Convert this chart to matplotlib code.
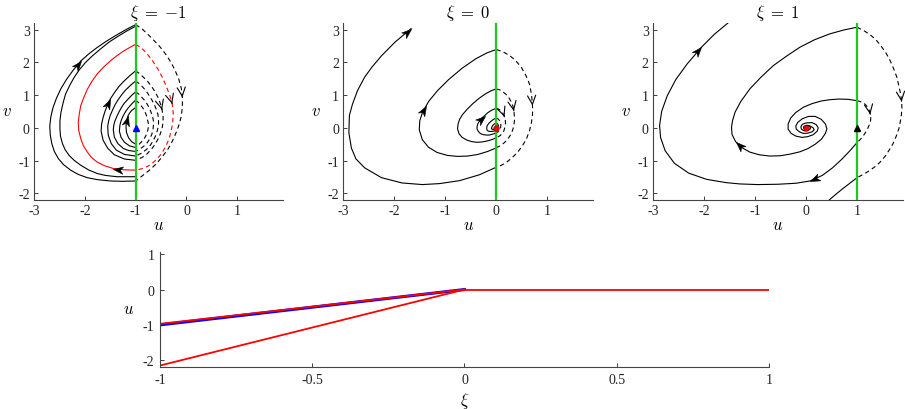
import numpy as np
import matplotlib
matplotlib.use('Agg')
import matplotlib.pyplot as plt
from matplotlib.markers import MarkerStyle
from matplotlib.transforms import Affine2D

plt.rcParams['font.family'] = ['Liberation Serif', 'DejaVu Serif']
plt.rcParams['mathtext.fontset'] = 'cm'
plt.rcParams['axes.unicode_minus'] = False

# ---------------- xi = -1 panel ----------------
xi_values = [-1, 0, 1]
titles = [r'$\xi\;=\;{-1}$', r'$\xi\;=\;0$', r'$\xi\;=\;1$']

m1_solid_out1 = [(-1.0,-1.62),(-1.25,-1.63),(-1.5,-1.62),(-1.75,-1.58),(-1.95,-1.52),(-2.13,-1.42),
                 (-2.28,-1.29),(-2.42,-1.12),(-2.52,-0.94),(-2.60,-0.72),(-2.65,-0.48),(-2.68,-0.22),
                 (-2.69,0.05),(-2.67,0.33),(-2.63,0.60),(-2.56,0.90),(-2.47,1.20),(-2.36,1.48),
                 (-2.23,1.76),(-2.08,2.04),(-1.92,2.26),(-1.76,2.45),(-1.58,2.64),(-1.39,2.82),
                 (-1.20,2.99),(-1.0,3.15)]
m1_solid_out2 = [(-1.0,-1.49),(-1.37,-1.49),(-1.60,-1.45),(-1.76,-1.39),(-1.93,-1.28),(-2.08,-1.14),
                 (-2.21,-0.99),(-2.31,-0.84),(-2.39,-0.66),(-2.44,-0.48),(-2.48,-0.25),(-2.49,-0.03),
                 (-2.49,0.22),(-2.47,0.47),(-2.43,0.75),(-2.38,1.03),(-2.30,1.29),(-2.21,1.54),
                 (-2.11,1.77),(-1.99,1.99),(-1.85,2.20),(-1.69,2.41),(-1.52,2.62),(-1.34,2.80),
                 (-1.17,2.96),(-1.0,3.10)]
m1_solid_red = [(-1.0,-1.29),(-1.22,-1.28),(-1.44,-1.24),(-1.62,-1.15),(-1.76,-1.04),(-1.87,-0.90),
                (-1.95,-0.74),(-2.03,-0.54),(-2.08,-0.33),(-2.12,-0.08),(-2.13,0.17),(-2.11,0.42),
                (-2.08,0.68),(-2.02,0.93),(-1.95,1.18),(-1.86,1.42),(-1.76,1.64),(-1.64,1.84),
                (-1.50,2.04),(-1.37,2.20),(-1.24,2.34),(-1.12,2.45),(-1.0,2.55)]
m1_solid_a1 = [(-1.0,-0.99),(-1.22,-0.95),(-1.42,-0.82),(-1.55,-0.62),(-1.64,-0.38),(-1.68,-0.10),
               (-1.67,0.12),(-1.64,0.32),(-1.60,0.52),(-1.55,0.71),(-1.50,0.88),(-1.41,1.09),
               (-1.32,1.28),(-1.22,1.44),(-1.11,1.60),(-1.0,1.74)]
m1_solid_a2 = [(-1.0,-0.86),(-1.22,-0.81),(-1.38,-0.68),(-1.48,-0.48),(-1.54,-0.22),(-1.55,0.05),
               (-1.53,0.22),(-1.50,0.38),(-1.45,0.56),(-1.40,0.72),(-1.34,0.87),(-1.27,1.02),
               (-1.20,1.15),(-1.10,1.30),(-1.0,1.43)]
m1_solid_a3 = [(-1.0,-0.72),(-1.14,-0.69),(-1.24,-0.63),(-1.35,-0.48),(-1.42,-0.28),(-1.44,-0.05),
               (-1.43,0.08),(-1.41,0.20),(-1.37,0.35),(-1.33,0.48),(-1.28,0.62),(-1.23,0.74),
               (-1.16,0.86),(-1.08,0.99),(-1.0,1.10)]
m1_solid_a4 = [(-1.0,-0.60),(-1.12,-0.55),(-1.22,-0.44),(-1.29,-0.28),(-1.32,-0.10),(-1.31,0.08),
               (-1.29,0.20),(-1.26,0.32),(-1.22,0.44),(-1.18,0.54),(-1.13,0.64),(-1.06,0.76),(-1.0,0.85)]
m1_solid_a5 = [(-1.0,-0.50),(-1.08,-0.42),(-1.14,-0.30),(-1.18,-0.14),(-1.19,0.02),(-1.185,0.14),
               (-1.17,0.26),(-1.15,0.37),(-1.12,0.45),(-1.08,0.53),(-1.0,0.62)]
m1_dash_out = [(-1.0,3.15),(-0.89,3.04),(-0.79,2.90),(-0.66,2.70),(-0.53,2.49),(-0.41,2.25),
               (-0.30,1.99),(-0.22,1.74),(-0.15,1.48),(-0.10,1.20),(-0.08,0.93),(-0.08,0.65),
               (-0.10,0.37),(-0.14,0.12),(-0.20,-0.13),(-0.27,-0.38),(-0.36,-0.64),(-0.47,-0.87),
               (-0.59,-1.09),(-0.72,-1.28),(-0.85,-1.44),(-1.0,-1.62)]
m1_dash_red = [(-1.0,2.55),(-0.89,2.44),(-0.79,2.29),(-0.67,2.05),(-0.56,1.79),(-0.47,1.53),
               (-0.40,1.28),(-0.33,1.00),(-0.28,0.73),(-0.26,0.45),(-0.27,0.17),(-0.30,-0.08),
               (-0.34,-0.33),(-0.41,-0.57),(-0.49,-0.79),(-0.60,-0.98),(-0.72,-1.14),(-0.86,-1.24),(-1.0,-1.29)]
m1_dash_i1 = [(-1.0,1.74),(-0.92,1.65),(-0.85,1.55),(-0.76,1.41),(-0.68,1.25),(-0.61,1.08),
              (-0.55,0.90),(-0.51,0.72),(-0.48,0.55),(-0.46,0.36),(-0.46,0.17),(-0.48,-0.02),
              (-0.52,-0.20),(-0.57,-0.37),(-0.63,-0.53),(-0.70,-0.67),(-0.78,-0.80),(-0.87,-0.90),(-1.0,-0.99)]
m1_dash_i2 = [(-1.0,1.43),(-0.93,1.35),(-0.87,1.26),(-0.80,1.14),(-0.74,1.00),(-0.68,0.85),
              (-0.63,0.70),(-0.59,0.55),(-0.56,0.40),(-0.55,0.25),(-0.55,0.10),(-0.57,-0.06),
              (-0.60,-0.22),(-0.65,-0.38),(-0.71,-0.53),(-0.78,-0.65),(-0.88,-0.77),(-1.0,-0.86)]
m1_dash_i3 = [(-1.0,1.10),(-0.94,1.03),(-0.89,0.95),(-0.83,0.85),(-0.78,0.74),(-0.73,0.61),
              (-0.70,0.49),(-0.67,0.36),(-0.65,0.22),(-0.65,0.08),(-0.66,-0.06),(-0.68,-0.19),
              (-0.72,-0.33),(-0.77,-0.45),(-0.84,-0.56),(-0.92,-0.65),(-1.0,-0.72)]
m1_dash_i4 = [(-1.0,0.85),(-0.95,0.78),(-0.91,0.71),(-0.86,0.61),(-0.82,0.50),(-0.79,0.39),
              (-0.77,0.27),(-0.75,0.14),(-0.75,0.03),(-0.76,-0.07),(-0.78,-0.18),(-0.82,-0.30),
              (-0.87,-0.40),(-0.93,-0.50),(-1.0,-0.60)]

# ---------------- xi = 0 panel ----------------
m2_solid_1 = [(0,-1.20),(-0.33,-1.43),(-0.72,-1.61),(-1.11,-1.70),(-1.45,-1.73),(-1.85,-1.68),
              (-2.25,-1.52),(-2.58,-1.22),(-2.75,-0.95),(-2.84,-0.62),(-2.89,-0.15),(-2.88,0.38),
              (-2.82,0.72),(-2.72,1.14),(-2.58,1.55),(-2.44,1.85),(-2.25,2.20),(-1.99,2.61),(-1.67,3.03)]
m2_solid_2 = [(0,-0.61),(-0.17,-0.72),(-0.36,-0.81),(-0.56,-0.86),(-0.76,-0.87),(-0.96,-0.84),
              (-1.16,-0.75),(-1.33,-0.59),(-1.45,-0.36),(-1.51,-0.06),(-1.50,0.22),(-1.44,0.50),
              (-1.38,0.66),(-1.32,0.82),(-1.15,1.14),(-0.93,1.48),(-0.67,1.82),(-0.40,2.11),
              (-0.18,2.29),(0,2.39)]
m2_solid_3 = [(0,-0.30),(-0.09,-0.36),(-0.18,-0.40),(-0.28,-0.43),(-0.38,-0.44),(-0.48,-0.42),
              (-0.58,-0.37),(-0.67,-0.29),(-0.73,-0.18),(-0.76,-0.03),(-0.75,0.11),(-0.72,0.26),
              (-0.66,0.41),(-0.57,0.57),(-0.46,0.74),(-0.33,0.91),(-0.20,1.05),(-0.09,1.14),(0,1.19)]
m2_solid_4 = [(0,-0.15),(-0.05,-0.18),(-0.09,-0.20),(-0.14,-0.22),(-0.19,-0.22),(-0.24,-0.21),
              (-0.29,-0.19),(-0.33,-0.15),(-0.36,-0.09),(-0.38,-0.02),(-0.375,0.055),(-0.36,0.13),
              (-0.33,0.21),(-0.29,0.29),(-0.23,0.37),(-0.17,0.46),(-0.10,0.53),(-0.045,0.57),(0,0.60)]
m2_solid_5 = [(0,-0.076),(-0.045,-0.10),(-0.095,-0.109),(-0.145,-0.105),(-0.181,-0.074),(-0.189,-0.008),
              (-0.18,0.065),(-0.144,0.143),(-0.084,0.227),(-0.05,0.264),(-0.023,0.286),(0,0.299)]
m2_solid_6 = [(0,-0.038),(-0.048,-0.054),(-0.09,-0.037),(-0.094,0.003),(-0.072,0.07),(-0.04,0.118),(0,0.15)]
m2_dash_1 = [(0,2.39),(0.13,2.32),(0.26,2.21),(0.38,2.05),(0.49,1.85),(0.58,1.60),(0.65,1.34),
             (0.69,1.02),(0.71,0.68),(0.71,0.42),(0.69,0.17),(0.65,-0.09),(0.59,-0.34),(0.51,-0.55),
             (0.42,-0.74),(0.31,-0.91),(0.20,-1.05),(0.10,-1.14),(0,-1.20)]
m2_dash_2 = [(0,1.19),(0.065,1.16),(0.13,1.10),(0.19,1.02),(0.245,0.925),(0.29,0.80),(0.325,0.67),
             (0.345,0.51),(0.355,0.34),(0.355,0.21),(0.345,0.085),(0.325,-0.045),(0.295,-0.17),
             (0.255,-0.275),(0.21,-0.37),(0.155,-0.455),(0.10,-0.525),(0.05,-0.57),(0,-0.60)]
m2_dash_3 = [(0,0.60),(0.035,0.58),(0.065,0.55),(0.095,0.51),(0.12,0.46),(0.145,0.40),(0.16,0.335),
             (0.175,0.255),(0.18,0.17),(0.178,0.10),(0.17,0.04),(0.16,-0.025),(0.15,-0.085),
             (0.13,-0.14),(0.105,-0.185),(0.08,-0.23),(0.05,-0.26),(0,-0.30)]
m2_dash_4 = [(0,0.30),(0.03,0.28),(0.06,0.23),(0.081,0.168),(0.089,0.085),(0.086,0.021),
             (0.074,-0.043),(0.052,-0.093),(0.025,-0.131),(0,-0.15)]
m2_dash_5 = [(0,0.15),(0.03,0.115),(0.043,0.06),(0.043,0.01),(0.026,-0.047),(0,-0.075)]

# ---------------- xi = 1 panel ----------------
m3_solid_spiral = [(0.03,0.06),(0.09,0.05),(0.14,0.0),(0.16,-0.06),(0.12,-0.12),(0.04,-0.16),
                   (-0.05,-0.17),(-0.13,-0.12),(-0.19,-0.04),(-0.20,0.06),(-0.16,0.17),(-0.07,0.28),
                   (0.05,0.35),(0.18,0.35),(0.30,0.26),(0.38,0.12),(0.41,-0.03),(0.38,-0.17),
                   (0.30,-0.35),(0.18,-0.50),(0.04,-0.63),(-0.12,-0.73),(-0.31,-0.80),(-0.50,-0.85),
                   (-0.71,-0.86),(-0.92,-0.82),(-1.10,-0.74),(-1.26,-0.60),(-1.38,-0.42),(-1.45,-0.20),
                   (-1.46,0.02),(-1.44,0.22),(-1.39,0.48),(-1.28,0.80),(-1.10,1.19),(-0.88,1.55),
                   (-0.64,1.90),(-0.38,2.19),(-0.12,2.46),(0.17,2.69),(0.47,2.87),(0.75,2.99),(1.0,3.07)]
m3_solid_p = [(-0.02,-0.03),(-0.05,0.0),(-0.04,0.05),(0.01,0.08),(0.06,0.07),(0.09,0.02),(0.08,-0.04),
              (0.03,-0.08),(-0.04,-0.09),(-0.09,-0.04),(-0.10,0.04),(-0.07,0.11),(0.0,0.15),(0.12,0.16),
              (0.20,0.10),(0.24,0.0),(0.22,-0.10),(0.14,-0.21),(0.03,-0.27),(-0.08,-0.29),(-0.20,-0.25),
              (-0.29,-0.17),(-0.35,-0.04),(-0.35,0.12),(-0.30,0.30),(-0.20,0.47),(-0.05,0.63),
              (0.12,0.74),(0.30,0.82),(0.47,0.86),(0.65,0.88),(0.83,0.87),(1.0,0.83)]
m3_solid_outer = [(1.0,-0.45),(0.86,-0.70),(0.70,-0.96),(0.52,-1.22),(0.32,-1.45),(0.08,-1.62),
                  (-0.20,-1.69),(-0.55,-1.72),(-0.95,-1.73),(-1.30,-1.71),(-1.57,-1.67),(-1.95,-1.57),
                  (-2.30,-1.38),(-2.58,-1.08),(-2.76,-0.70),(-2.85,-0.30),(-2.87,0.07),(-2.83,0.50),
                  (-2.72,0.98),(-2.55,1.48),(-2.33,1.95),(-2.05,2.46),(-1.80,2.85),(-1.53,3.20)]
m3_solid_exit = [(1.0,-1.52),(0.85,-1.70),(0.70,-1.88),(0.56,-2.06),(0.44,-2.22)]
m3_dash_big = [(1.0,3.07),(1.13,2.97),(1.25,2.85),(1.37,2.69),(1.47,2.50),(1.57,2.28),(1.65,2.05),
               (1.72,1.80),(1.78,1.55),(1.82,1.28),(1.86,1.00),(1.875,0.80),(1.88,0.60),(1.87,0.40),
               (1.85,0.20),(1.82,-0.03),(1.77,-0.25),(1.71,-0.47),(1.63,-0.68),(1.55,-0.87),
               (1.45,-1.05),(1.34,-1.20),(1.22,-1.33),(1.11,-1.43),(1.0,-1.52)]
m3_dash_small = [(1.0,0.83),(1.05,0.81),(1.10,0.78),(1.15,0.73),(1.19,0.67),(1.22,0.59),(1.25,0.50),
                 (1.26,0.41),(1.27,0.32),(1.265,0.22),(1.25,0.12),(1.22,0.02),(1.19,-0.08),
                 (1.15,-0.18),(1.11,-0.27),(1.06,-0.36),(1.0,-0.45)]

# ---------------- bottom panel ----------------
xi_left = [-1, 0]
u_blue = [-1.0, 0.0]
u_red_upper = [-0.97, 0.0]
u_red_lower = [-2.15, 0.0]
xi_right = [0, 1]
u_red_right = [0.0, 0.0]

GREEN = '#1ec81e'
STEALTH = [(0, 0), (-1, 0.38), (-0.72, 0), (-1, -0.38), (0, 0)]


def draw(ax, pts, color='k', dashed=False, lw=0.8):
    p = np.array(pts)
    ls = (0, (4, 3)) if dashed else '-'
    ax.plot(p[:, 0], p[:, 1], color=color, lw=lw, ls=ls,
            solid_joinstyle='round', dash_joinstyle='round', zorder=2)


def head(ax, pts, i, filled=True, color='k'):
    x1, y1 = pts[i]
    x0, y0 = pts[i - 1]
    if filled:
        a = ax.transData.transform((x0, y0))
        b = ax.transData.transform((x1, y1))
        ang = np.degrees(np.arctan2(b[1] - a[1], b[0] - a[0]))
        m = MarkerStyle(STEALTH, transform=Affine2D().rotate_deg(ang))
        ax.plot([x1], [y1], marker=m, ms=14, color=color, mec=color, mew=0.4,
                ls='none', zorder=5)
    else:
        tail = (x1 - 0.05 * (x1 - x0), y1 - 0.05 * (y1 - y0))
        ax.annotate('', xy=(x1, y1), xytext=tail,
                    arrowprops=dict(arrowstyle='->,head_length=0.9,head_width=0.42',
                                    color=color, lw=0.8, mutation_scale=7,
                                    shrinkA=0, shrinkB=0), zorder=5)


def setup_top(ax, xi, title):
    ax.set_xlim(-3, 1.9)
    ax.set_ylim(-2.2, 3.2)
    ax.set_xticks([-3, -2, -1, 0, 1])
    ax.set_yticks([-2, -1, 0, 1, 2, 3])
    for s in ['top', 'right']:
        ax.spines[s].set_visible(False)
    for s in ['left', 'bottom']:
        ax.spines[s].set_color('#444444')
        ax.spines[s].set_linewidth(0.8)
    ax.tick_params(direction='in', length=3, width=0.6, labelsize=10, pad=3,
                   colors='#222222')
    ax.set_title(title, fontsize=12, pad=4)
    ax.set_xlabel(r'$u$', fontsize=12, labelpad=0)
    ax.set_ylabel(r'$v$', fontsize=12, rotation=0, labelpad=8, va='center')
    ax.axvline(xi, color=GREEN, lw=1.6, zorder=3)


fig = plt.figure(figsize=(9.05, 4.1), dpi=100)
ax1 = fig.add_axes([0.0376, 0.5098, 0.2751, 0.4317])
ax2 = fig.add_axes([0.3793, 0.5098, 0.2762, 0.4317])
ax3 = fig.add_axes([0.7215, 0.5098, 0.2762, 0.4317])
ax4 = fig.add_axes([0.1768, 0.1017, 0.6729, 0.2820])

# panel xi = -1
setup_top(ax1, xi_values[0], titles[0])
for c in [m1_solid_out1, m1_solid_out2, m1_solid_a1, m1_solid_a2, m1_solid_a3,
          m1_solid_a4, m1_solid_a5]:
    draw(ax1, c)
draw(ax1, m1_solid_red, color='r')
for c in [m1_dash_out, m1_dash_i1, m1_dash_i2, m1_dash_i3, m1_dash_i4]:
    draw(ax1, c, dashed=True)
draw(ax1, m1_dash_red, color='r', dashed=True)
head(ax1, m1_solid_out1, 19)
head(ax1, m1_solid_red, 2)
head(ax1, m1_solid_a1, 10)
head(ax1, m1_solid_a5, 7)
head(ax1, m1_dash_out, 10, filled=False)
head(ax1, m1_dash_red, 8, filled=False)
head(ax1, m1_dash_i1, 8, filled=False)
ax1.plot(xi_values[0], 0, '^', ms=4.5, color='b', zorder=6)

# panel xi = 0
setup_top(ax2, xi_values[1], titles[1])
for c in [m2_solid_1, m2_solid_2, m2_solid_3, m2_solid_4, m2_solid_5, m2_solid_6]:
    draw(ax2, c)
for c in [m2_dash_1, m2_dash_2, m2_dash_3, m2_dash_4, m2_dash_5]:
    draw(ax2, c, dashed=True)
head(ax2, m2_solid_1, len(m2_solid_1) - 1)
head(ax2, m2_solid_2, 12)
head(ax2, m2_solid_4, 14)
head(ax2, m2_dash_1, 8, filled=False)
head(ax2, m2_dash_2, 7, filled=False)
head(ax2, m2_dash_3, 6, filled=False)
ax2.plot(0, 0, 'o', ms=4, mfc='r', mec='#900000', mew=0.5, zorder=6)

# panel xi = 1
setup_top(ax3, xi_values[2], titles[2])
for c in [m3_solid_spiral, m3_solid_p, m3_solid_outer, m3_solid_exit]:
    draw(ax3, c)
for c in [m3_dash_big, m3_dash_small]:
    draw(ax3, c, dashed=True)
head(ax3, m3_solid_spiral, 28)
head(ax3, m3_solid_outer, 21)
head(ax3, m3_solid_outer, 5)
head(ax3, m3_dash_big, 11, filled=False)
head(ax3, m3_dash_small, 7, filled=False)
ax3.plot(xi_values[2], 0, '^', ms=4.5, color='k', zorder=6)
ax3.plot(0, 0, 'o', ms=4, mfc='r', mec='#900000', mew=0.5, zorder=6)

# bottom panel
ax4.plot(xi_left, u_blue, color='b', lw=2.2)
ax4.plot(xi_left, u_red_upper, color='r', lw=1.3)
ax4.plot(xi_left, u_red_lower, color='r', lw=1.3)
ax4.plot(xi_right, u_red_right, color='r', lw=1.3)
ax4.set_xlim(-1, 1)
ax4.set_ylim(-2.2, 1.07)
ax4.set_xticks([-1, -0.5, 0, 0.5, 1])
ax4.set_xticklabels(['-1', '-0.5', '0', '0.5', '1'])
ax4.set_yticks([-2, -1, 0, 1])
for s in ['top', 'right']:
    ax4.spines[s].set_visible(False)
for s in ['left', 'bottom']:
    ax4.spines[s].set_color('#444444')
    ax4.spines[s].set_linewidth(0.8)
ax4.tick_params(direction='in', length=3, width=0.6, labelsize=10, pad=4,
                colors='#222222')
ax4.set_xlabel(r'$\xi$', fontsize=12, labelpad=3)
ax4.set_ylabel(r'$u$', fontsize=12, rotation=0, labelpad=10, va='center')

fig.savefig('out.png', dpi=100)
